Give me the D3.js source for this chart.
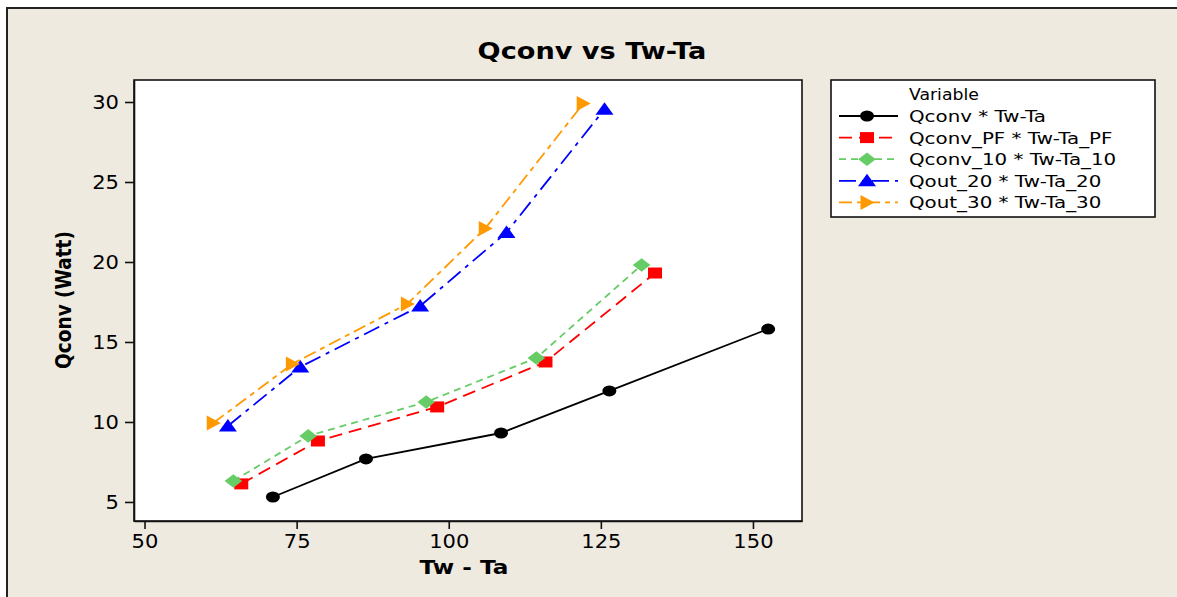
<!DOCTYPE html>
<html>
<head>
<meta charset="utf-8">
<script src="https://cdn.jsdelivr.net/npm/d3@7"></script>
<style>
  html, body { margin: 0; padding: 0; background: #ffffff; }
  svg { display: block; }
  text { font-family: "DejaVu Sans", Verdana, sans-serif; fill: #000; }
</style>
</head>
<body>
<svg id="chart" width="1177" height="597"></svg>
<script>
// ---------------- data ----------------
const seriesNames = [
  "Qconv * Tw-Ta",
  "Qconv_PF * Tw-Ta_PF",
  "Qconv_10 * Tw-Ta_10",
  "Qout_20 * Tw-Ta_20",
  "Qout_30 * Tw-Ta_30"
];
const qconvX   = [71.1, 86.4, 108.6, 126.4, 152.5];
const qconvY   = [5.31, 7.69, 9.31, 11.94, 15.81];
const qconvPFX = [65.9, 78.5, 98.1, 115.9, 133.9];
const qconvPFY = [6.13, 8.81, 10.94, 13.75, 19.31];
const qconv10X = [64.6, 76.9, 96.3, 114.4, 131.7];
const qconv10Y = [6.31, 9.13, 11.25, 14.0, 19.81];
const qout20X  = [63.7, 75.6, 95.3, 109.5, 125.6];
const qout20Y  = [9.75, 13.44, 17.25, 21.85, 29.55];
const qout30X  = [61.3, 74.3, 93.2, 106.0, 122.1];
const qout30Y  = [9.94, 13.63, 17.38, 22.1, 29.9];
const xTicks = [50, 75, 100, 125, 150];
const yTicks = [5, 10, 15, 20, 25, 30];
const titleText = "Qconv vs Tw-Ta";
const xTitle = "Tw - Ta";
const yTitle = "Qconv (Watt)";
const legendTitle = "Variable";

// ---------------- styles ----------------
const styles = [
  { color: "#000000", dash: null,            marker: "circle",   width: 1.8 },
  { color: "#ff0000", dash: "13,7",          marker: "square",   width: 1.8 },
  { color: "#66cc66", dash: "7,5",           marker: "diamond",  width: 1.8 },
  { color: "#0000ff", dash: "17,6,4,6",      marker: "triUp",    width: 1.8 },
  { color: "#ff9900", dash: "13,5,5,5",      marker: "triRight", width: 1.8 }
];

const W = 1177, H = 597;
const plot = { left: 134, right: 802, top: 80, bottom: 521 };

const svg = d3.select("#chart");

// stretch helper (reference text is horizontally wide)
function stretch(sel, k) {
  sel.each(function () {
    const len = this.getComputedTextLength();
    d3.select(this).attr("textLength", len * k).attr("lengthAdjust", "spacingAndGlyphs");
  });
}

// background / frame
svg.append("rect").attr("x", 7).attr("y", 8).attr("width", W - 7).attr("height", H - 8).attr("fill", "#eeeae0");
svg.append("line").attr("x1", 6).attr("x2", W).attr("y1", 8).attr("y2", 8).attr("stroke", "#222").attr("stroke-width", 2);
svg.append("line").attr("x1", 7).attr("x2", 7).attr("y1", 7).attr("y2", H).attr("stroke", "#222").attr("stroke-width", 2);

// plot area
svg.append("rect")
  .attr("x", plot.left).attr("y", plot.top)
  .attr("width", plot.right - plot.left).attr("height", plot.bottom - plot.top)
  .attr("fill", "#ffffff").attr("stroke", "#111").attr("stroke-width", 1.6);

const x = d3.scaleLinear().domain([48.27, 158.06]).range([plot.left, plot.right]);
const y = d3.scaleLinear().domain([3.81, 31.375]).range([plot.bottom, plot.top]);

// axes
const xAxis = svg.append("g").attr("transform", `translate(0,${plot.bottom})`)
  .call(d3.axisBottom(x).tickValues(xTicks).tickSize(8).tickSizeOuter(0).tickPadding(5));
const yAxis = svg.append("g").attr("transform", `translate(${plot.left},0)`)
  .call(d3.axisLeft(y).tickValues(yTicks).tickSize(9).tickSizeOuter(0).tickPadding(6));
[xAxis, yAxis].forEach(a => {
  a.select(".domain").attr("stroke", "#111").attr("stroke-width", 1.6);
  a.selectAll(".tick line").attr("stroke", "#111").attr("stroke-width", 1.6);
  a.selectAll(".tick text").attr("font-size", 19.5).attr("font-family", "DejaVu Sans").attr("fill", "#111");
});
stretch(xAxis.selectAll(".tick text"), 1.08);
stretch(yAxis.selectAll(".tick text"), 1.08);

// titles
const t = svg.append("text").attr("x", 592).attr("y", 59).attr("text-anchor", "middle")
  .attr("font-size", 23).attr("font-weight", "bold").text(titleText);
stretch(t, 1.18);
const xt = svg.append("text").attr("x", 464).attr("y", 574).attr("text-anchor", "middle")
  .attr("font-size", 19).attr("font-weight", "bold").text(xTitle);
stretch(xt, 1.22);
svg.append("text").attr("transform", "translate(71,300) scale(1.18,1) rotate(-90)").attr("text-anchor", "middle")
  .attr("font-size", 18.5).attr("font-weight", "bold").text(yTitle);

// markers
function markerPath(type) {
  switch (type) {
    case "circle": {
      const rx = 7, ry = 5.5;
      return `M${-rx},0A${rx},${ry} 0 1,0 ${rx},0A${rx},${ry} 0 1,0 ${-rx},0Z`;
    }
    case "square": return "M-7,-5.5H7V5.5H-7Z";
    case "diamond": return "M0,-6.8L8.8,0L0,6.8L-8.8,0Z";
    case "triUp": return "M0,-7L9,5.5L-9,5.5Z";
    case "triRight": return "M7.5,0L-6.5,-7.5L-6.5,7.5Z";
  }
}

const xs = [qconvX, qconvPFX, qconv10X, qout20X, qout30X];
const ys = [qconvY, qconvPFY, qconv10Y, qout20Y, qout30Y];
const line = d3.line().x(d => x(d[0])).y(d => y(d[1]));

seriesNames.forEach((name, i) => {
  const pts = xs[i].map((v, j) => [v, ys[i][j]]);
  const st = styles[i];
  const g = svg.append("g");
  g.append("path").datum(pts).attr("d", line)
    .attr("fill", "none").attr("stroke", st.color).attr("stroke-width", st.width)
    .attr("stroke-dasharray", st.dash);
  g.selectAll("path.m").data(pts).join("path").attr("class", "m")
    .attr("d", markerPath(st.marker))
    .attr("transform", d => `translate(${x(d[0])},${y(d[1])})`)
    .attr("fill", st.color);
});

// legend
const lg = svg.append("g");
lg.append("rect").attr("x", 831).attr("y", 80).attr("width", 324).attr("height", 137)
  .attr("fill", "#fff").attr("stroke", "#111").attr("stroke-width", 1.6);
const vt = lg.append("text").attr("x", 909).attr("y", 100).attr("font-size", 15).text(legendTitle);
stretch(vt, 1.15);
seriesNames.forEach((name, i) => {
  const cy = 116 + i * 21.6;
  const st = styles[i];
  lg.append("line").attr("x1", 839).attr("x2", 898).attr("y1", cy).attr("y2", cy)
    .attr("stroke", st.color).attr("stroke-width", st.width).attr("stroke-dasharray", st.dash);
  lg.append("path").attr("d", markerPath(st.marker)).attr("transform", `translate(867,${cy})`).attr("fill", st.color);
  const tt = lg.append("text").attr("x", 909).attr("y", cy + 6).attr("font-size", 15.5).text(name);
  stretch(tt, 1.28);
});
</script>
</body>
</html>
